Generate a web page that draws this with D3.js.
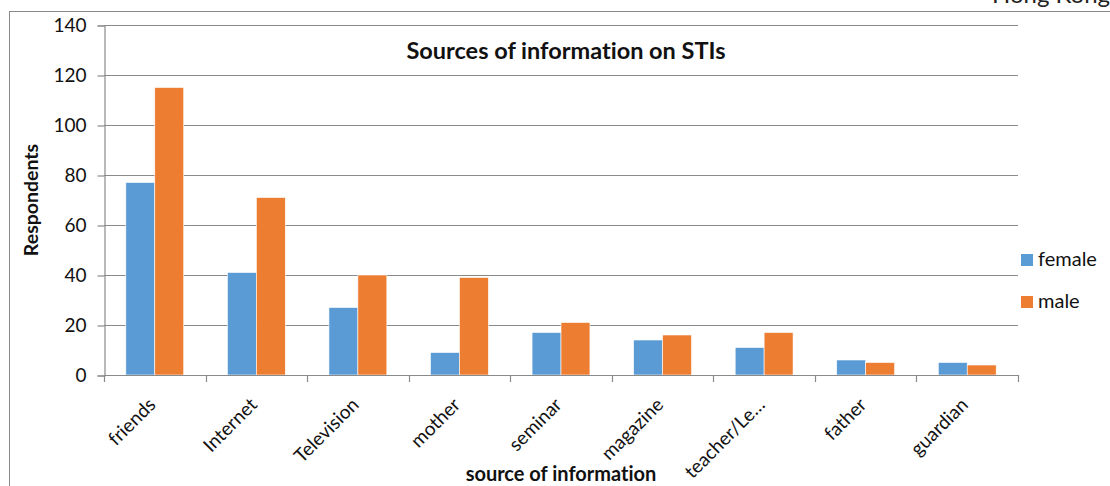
<!DOCTYPE html>
<html>
<head>
<meta charset="utf-8">
<script src="https://cdn.jsdelivr.net/npm/d3@7"></script>
<style>
  html, body { margin: 0; padding: 0; background: #fff; }
  svg { display: block; font-family: Lato, "Open Sans", sans-serif; }
  svg text { font-variant-ligatures: none; font-feature-settings: "liga" 0, "dlig" 0; }
</style>
</head>
<body>
<svg id="chart" width="1110" height="486"></svg>
<script>
// Sources of information on STIs, respondents by sex
const categories = ["friends", "Internet", "Television", "mother", "seminar",
                    "magazine", "teacher/Le\u2026", "father", "guardian"];
const female = [77, 41, 27, 9, 17, 14, 11, 6, 5];
const male   = [115, 71, 40, 39, 21, 16, 17, 5, 4];
const seriesNames = ["female", "male"];
const yTicks = [0, 20, 40, 60, 80, 100, 120, 140];

const colors = { female: "#5B9BD5", male: "#ED7D31" };
const gridColor = "#8a8a8a";
const textColor = "#111";

const svg = d3.select("#chart");

// outer frame and the caption sitting above it
svg.append("text")
  .attr("x", 992).attr("y", 3)
  .attr("font-size", 24).attr("fill", "#222")
  .text("Hong Kong");
svg.append("rect")
  .attr("x", 9.5).attr("y", 11.5)
  .attr("width", 1130).attr("height", 500)
  .attr("fill", "none").attr("stroke", "#8a8a8a").attr("stroke-width", 1);

const plot = { left: 104, right: 1018, top: 25, bottom: 375 };

const x = d3.scaleBand()
  .domain(categories)
  .range([plot.left, plot.right])
  .paddingInner(0.43)
  .paddingOuter(0.215);

const xSeries = d3.scaleBand()
  .domain(seriesNames)
  .range([0, x.bandwidth()]);

const y = d3.scaleLinear()
  .domain([0, 140])
  .range([plot.bottom, plot.top]);

// horizontal gridlines
svg.append("g")
  .selectAll("line")
  .data(yTicks.filter(d => d > 0))
  .join("line")
  .attr("x1", plot.left).attr("x2", plot.right)
  .attr("y1", d => Math.round(y(d)) + 0.5)
  .attr("y2", d => Math.round(y(d)) + 0.5)
  .attr("stroke", gridColor).attr("stroke-width", 1.2);

// y axis
const yAxis = svg.append("g")
  .attr("transform", `translate(${plot.left + 0.5},0.5)`)
  .call(d3.axisLeft(y).tickValues(yTicks).tickSize(7).tickPadding(11));
yAxis.select(".domain").attr("stroke", gridColor).attr("stroke-width", 1.2);
yAxis.selectAll(".tick line").attr("stroke", gridColor).attr("stroke-width", 1.2);
yAxis.selectAll(".tick text")
  .attr("font-size", 19).attr("fill", textColor)
  .attr("font-family", "Lato, 'Open Sans', sans-serif");

// bars
const rows = categories.map((c, i) => ({ cat: c, female: female[i], male: male[i] }));
const groups = svg.append("g")
  .selectAll("g")
  .data(rows)
  .join("g")
  .attr("transform", d => `translate(${x(d.cat)},0)`);

groups.selectAll("rect")
  .data(d => seriesNames.map(s => ({ s, v: d[s] })))
  .join("rect")
  .attr("x", d => xSeries(d.s))
  .attr("width", xSeries.bandwidth())
  .attr("y", d => y(d.v))
  .attr("height", d => y(0) - y(d.v))
  .attr("fill", d => colors[d.s])
  .attr("stroke", "#fff").attr("stroke-width", 0.6);

// x axis with ticks between categories
const xAxisG = svg.append("g");
xAxisG.append("line")
  .attr("x1", plot.left).attr("x2", plot.right)
  .attr("y1", plot.bottom + 0.5).attr("y2", plot.bottom + 0.5)
  .attr("stroke", gridColor).attr("stroke-width", 1.2);
const step = x.step();
const boundaries = categories.map(c => x(c) - x.paddingOuter() * step)
  .concat([plot.right]);
xAxisG.selectAll("line.tick")
  .data(boundaries)
  .join("line")
  .attr("class", "tick")
  .attr("x1", d => Math.round(d) + 0.5).attr("x2", d => Math.round(d) + 0.5)
  .attr("y1", plot.bottom).attr("y2", plot.bottom + 7)
  .attr("stroke", gridColor).attr("stroke-width", 1.2);

xAxisG.selectAll("text")
  .data(categories)
  .join("text")
  .attr("transform", d => `translate(${x(d) + x.bandwidth() / 2 + 2},${plot.bottom + 31}) rotate(-45)`)
  .attr("text-anchor", "end")
  .attr("font-size", 19).attr("fill", textColor)
  .text(d => d);

// titles
svg.append("text")
  .attr("x", 566).attr("y", 59)
  .attr("text-anchor", "middle")
  .attr("font-size", 23.5).attr("font-weight", "bold").attr("fill", textColor)
  .text("Sources of information on STIs");

svg.append("text")
  .attr("transform", `translate(38,200) rotate(-90)`)
  .attr("text-anchor", "middle")
  .attr("font-size", 19.5).attr("font-weight", "bold").attr("fill", textColor)
  .text("Respondents");

svg.append("text")
  .attr("x", 561).attr("y", 481)
  .attr("text-anchor", "middle")
  .attr("font-size", 20).attr("font-weight", "bold").attr("fill", textColor)
  .text("source of information");

// legend
const legend = svg.append("g")
  .selectAll("g")
  .data(seriesNames)
  .join("g")
  .attr("transform", (d, i) => `translate(1021,${254 + i * 42})`);
legend.append("rect")
  .attr("width", 12).attr("height", 12)
  .attr("fill", d => colors[d]);
legend.append("text")
  .attr("x", 17).attr("y", 12)
  .attr("font-size", 20).attr("fill", textColor)
  .text(d => d);
</script>
</body>
</html>
